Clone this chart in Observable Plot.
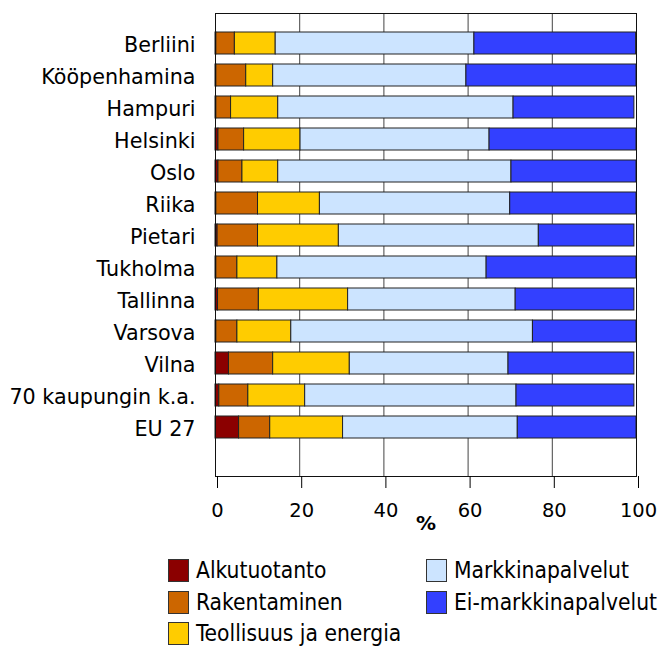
<!DOCTYPE html>
<html>
<head>
<meta charset="utf-8">
<script src="https://cdn.jsdelivr.net/npm/d3@7"></script>
<script src="https://cdn.jsdelivr.net/npm/@observablehq/plot@0.6"></script>
<style>
  html, body { margin: 0; padding: 0; background: #fff; }
  #wrap { position: relative; width: 662px; height: 651px; overflow: hidden; }
  #legend { position: absolute; left: 0; top: 0; width: 662px; height: 651px; pointer-events: none; }
  .item { position: absolute; display: flex; align-items: center; height: 24px;
          font-family: "DejaVu Sans Condensed", "DejaVu Sans", sans-serif; font-stretch: condensed;
          font-size: 22.6px; color: #000; white-space: nowrap; }
  .sw { width: 21px; height: 23px; box-sizing: border-box; border: 1px solid #333; margin-right: 7px; }
</style>
</head>
<body>
<div id="wrap"><div id="chart"></div><div id="legend"></div></div>
<script>
const cities = ["Berliini","Kööpenhamina","Hampuri","Helsinki","Oslo","Riika","Pietari","Tukholma","Tallinna","Varsova","Vilna","70 kaupungin k.a.","EU 27"];
const sectors = ["Alkutuotanto","Rakentaminen","Teollisuus ja energia","Markkinapalvelut","Ei-markkinapalvelut"];
const colors = ["#8B0000","#CC6600","#FFCC00","#CCE4FF","#3340FF"];

const alkutuotanto        = [0.2, 0.2, 0.2, 0.7, 0.7, 0.2, 0.5, 0.2, 0.6, 0.2, 3.2, 0.9, 5.6];
const rakentaminen        = [4.4, 7.1, 3.5, 6.1, 5.7, 9.9, 9.6, 5.0, 9.7, 5.0, 10.5, 6.9, 7.4];
const teollisuus          = [9.7, 6.4, 11.2, 13.4, 8.5, 14.7, 19.2, 9.5, 21.2, 12.8, 18.2, 13.5, 17.3];
const markkinapalvelut    = [47.2, 45.9, 55.9, 44.9, 55.4, 45.2, 47.5, 49.7, 39.8, 57.4, 37.7, 50.2, 41.5];
const eiMarkkinapalvelut  = [38.4, 40.4, 28.7, 34.9, 29.7, 30.0, 22.7, 35.6, 28.2, 24.6, 29.9, 28.0, 28.2];
const xTicks = [0, 20, 40, 60, 80, 100];
const gridTicks = [20, 40, 60, 80];

const series = [alkutuotanto, rakentaminen, teollisuus, markkinapalvelut, eiMarkkinapalvelut];
const data = [];
cities.forEach((c, i) => {
  sectors.forEach((s, j) => data.push({city: c, sector: s, value: series[j][i]}));
});

const chart = Plot.plot({
  width: 662,
  height: 545,
  marginTop: 13,
  marginBottom: 69,
  marginLeft: 215,
  marginRight: 26,
  style: {fontFamily: "DejaVu Sans, sans-serif", fontSize: "20px", color: "#000", background: "#fff"},
  x: {domain: [0, 100]},
  y: {domain: cities, range: [32.3, 450], paddingInner: 0.3, paddingOuter: 0, align: 0},
  color: {domain: sectors, range: colors},
  marks: [
    Plot.ruleX(gridTicks, {stroke: "#444", strokeWidth: 1}),
    Plot.barX(data, Plot.stackX({x: "value", y: "city", fill: "sector", stroke: "#222", strokeWidth: 1, order: null})),
    Plot.frame({stroke: "#111", strokeWidth: 1}),
    Plot.axisY({tickSize: 0, tickPadding: 20, fontSize: 20.7, dy: 2, label: null}),
    Plot.axisX({ticks: xTicks, tickSize: 12, tickPadding: 15, dx: 2, fontSize: 19.5, label: null}),
    Plot.axisX({ticks: [], tickSize: 0, label: "%", labelAnchor: "center", labelOffset: 53, labelArrow: "none", fontSize: 20, fontWeight: "bold"})
  ]
});
document.getElementById("chart").appendChild(chart);

// Legend
const legendPos = [
  {left: 168, top: 558},
  {left: 168, top: 590},
  {left: 168, top: 621},
  {left: 426, top: 558},
  {left: 426, top: 590}
];
const legend = document.getElementById("legend");
sectors.forEach((s, i) => {
  const it = document.createElement("div");
  it.className = "item";
  it.style.left = legendPos[i].left + "px";
  it.style.top = legendPos[i].top + "px";
  const sw = document.createElement("div");
  sw.className = "sw";
  sw.style.background = colors[i];
  const tx = document.createElement("span");
  tx.textContent = s;
  it.appendChild(sw);
  it.appendChild(tx);
  legend.appendChild(it);
});
</script>
</body>
</html>
